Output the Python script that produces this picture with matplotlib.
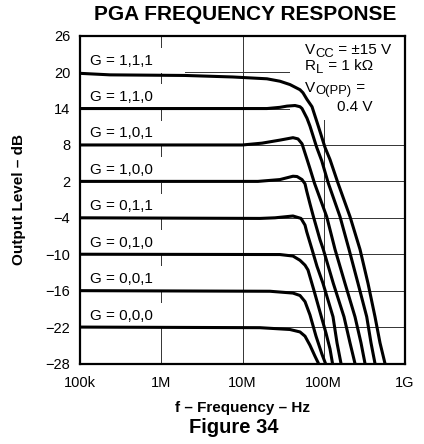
import matplotlib

matplotlib.use("Agg")
import matplotlib.pyplot as plt
from matplotlib.patches import Rectangle

plt.rcParams["font.family"] = ["Liberation Sans", "DejaVu Sans"]

# gain select codes and the nominal flat-band level of each
GAIN_CODES = ["1,1,1", "1,1,0", "1,0,1", "1,0,0", "0,1,1", "0,1,0", "0,0,1", "0,0,0"]
NOMINAL_DB = [20, 14, 8, 2, -4, -10, -16, -22]

# frequency in MHz, output level in dB
F_111 = [0.1, 0.234, 1.96, 7.6, 20.0, 28.9, 38.4, 51.0, 55.5, 62.2, 71.7, 85.7, 103.6,
         119.4, 149.8, 210.4, 279.4, 350.5, 427.4, 492.5, 567.4]
DB_111 = [19.8, 19.55, 19.45, 19.2, 18.9, 18.5, 17.95, 17.1, 16.6, 15.5, 14.3, 11.1, 7.6,
          5.6, 1.7, -3.8, -9.2, -14.8, -20.3, -24.6, -28.0]

F_110 = [0.1, 20.0, 28.9, 35.3, 44.3, 51.0, 54.0, 62.2, 67.7, 81.9, 94.4, 113.8, 158.5,
         204.6, 264.0, 337.9, 381.6, 427.4]
DB_110 = [14.0, 14.0, 14.2, 14.4, 14.5, 14.3, 14.0, 12.4, 11.1, 7.6, 5.4, 1.7, -3.8,
          -9.2, -14.8, -20.3, -24.6, -28.0]

F_101 = [0.1, 10.0, 17.4, 28.9, 41.8, 48.2, 54.0, 61.7, 67.7, 76.9, 108.7, 137.6, 182.6,
         242.4, 287.4, 322.0]
DB_101 = [8.0, 8.0, 8.3, 8.8, 9.2, 9.0, 8.2, 5.8, 4.1, 1.7, -3.8, -9.2, -14.8,
          -20.3, -24.6, -28.0]

F_100 = [0.1, 15.5, 28.9, 41.8, 46.9, 54.0, 58.8, 61.7, 67.7, 74.4, 89.9, 98.7, 131.1,
         177.5, 210.4, 242.4]
DB_100 = [2.0, 2.0, 2.3, 2.85, 2.8, 2.3, 1.6, 0.4, -1.7, -3.75, -7.6, -9.2, -14.8,
          -20.3, -24.6, -28.0]

F_011 = [0.1, 16.4, 25.1, 41.8, 52.5, 58.8, 61.7, 71.7, 82.6, 97.9, 130.0, 145.6, 163.1]
DB_011 = [-4.0, -4.1, -4.0, -3.7, -4.1, -5.2, -6.3, -9.2, -12.0, -14.8, -20.3, -24.6, -28.0]

F_010 = [0.1, 28.9, 41.8, 51.0, 58.8, 64.0, 75.9, 89.9, 106.6, 119.4, 128.2]
DB_010 = [-10.0, -10.05, -10.3, -11.0, -11.8, -12.6, -16.0, -19.5, -23.0, -25.6, -28.0]

F_001 = [0.1, 21.8, 41.8, 51.0, 58.8, 67.7, 80.3, 95.2, 105.1]
DB_001 = [-16.0, -16.1, -16.4, -16.8, -17.8, -20.0, -23.5, -26.5, -28.0]

F_000 = [0.1, 16.4, 38.4, 51.0, 58.8, 67.7, 78.0, 86.2]
DB_000 = [-22.0, -22.1, -22.4, -22.8, -23.5, -25.0, -26.8, -28.0]

CURVES = [(F_111, DB_111), (F_110, DB_110), (F_101, DB_101), (F_100, DB_100),
          (F_011, DB_011), (F_010, DB_010), (F_001, DB_001), (F_000, DB_000)]

Y_TICKS = [26, 20, 14, 8, 2, -4, -10, -16, -22, -28]
X_TICKS = [1e5, 1e6, 1e7, 1e8, 1e9]
X_TICK_LABELS = ["100k", "1M", "10M", "100M", "1G"]

# test conditions: (symbol, subscript, rest of line)
CONDITIONS = [("V", "CC", " = \u00b115 V"), ("R", "L", " = 1 k\u03a9"), ("V", "O(PP)", " =")]
CONDITION_Y = [23.0, 20.3, 16.8]


def label_with_subscript(ax, x, y, main, sub, rest, size=11):
    trans = ax.get_yaxis_transform()
    t1 = ax.text(x, y, main, transform=trans, fontsize=size, ha="left",
                 va="baseline", zorder=4)
    t2 = ax.annotate(sub, xy=(1, 0), xycoords=t1, xytext=(0.3, -2.0),
                     textcoords="offset points", fontsize=size * 0.85,
                     ha="left", va="bottom", zorder=4)
    ax.annotate(rest, xy=(1, 0), xycoords=(t2, t1), xytext=(0, 0),
                textcoords="offset points", fontsize=size, ha="left",
                va="bottom", zorder=4)


W, H = 424, 444
fig = plt.figure(figsize=(W / 100, H / 100), dpi=100)
ax = fig.add_axes([80 / W, 1 - 363.5 / H, 325 / W, 327.8 / H])

ax.set_xscale("log")
ax.set_xlim(1e5, 1e9)
ax.set_ylim(-28, 26)
ax.set_xticks(X_TICKS)
ax.set_xticklabels(X_TICK_LABELS)
ax.set_xticks([], minor=True)
ax.set_yticks(Y_TICKS)
ax.set_yticklabels([str(v).replace("-", "\u2212") for v in Y_TICKS])
ax.tick_params(length=0, labelsize=10.5)
ax.tick_params(axis="y", pad=7)
ax.tick_params(axis="x", pad=9)
ax.grid(True, color="0.2", lw=0.7)
ax.set_axisbelow(True)
for sp in ax.spines.values():
    sp.set_linewidth(1.6)

trans = ax.get_yaxis_transform()
for code, level in zip(GAIN_CODES, NOMINAL_DB):
    ax.add_patch(Rectangle((0, level - 0.2), 0.323, 4.2, transform=trans,
                           facecolor="white", edgecolor="none", zorder=1))
    ax.text(0.031, level + 1.9, f"G = {code}", transform=trans, fontsize=11,
            ha="left", va="center", zorder=4)

# blank area behind the test conditions
ax.add_patch(Rectangle((0.646, 12.1), 0.354, 13.9, transform=trans,
                       facecolor="white", edgecolor="none", zorder=1))

for freqs, levels in CURVES:
    ax.plot([f * 1e6 for f in freqs], levels, color="black", lw=2.2,
            solid_joinstyle="round", solid_capstyle="butt", zorder=3)

for (main, sub, rest), y in zip(CONDITIONS, CONDITION_Y):
    label_with_subscript(ax, 0.692, y, main, sub, rest)
ax.text(0.791, 14.3, "0.4 V", transform=trans, fontsize=11,
        ha="left", va="center", zorder=4)

fig.text(245 / W, 1 - 15 / H, "PGA FREQUENCY RESPONSE", fontsize=15,
         fontweight="bold", ha="center", va="center")
fig.text(242 / W, 1 - 408 / H, "f \u2013 Frequency \u2013 Hz", fontsize=11,
         fontweight="bold", ha="center", va="center")
fig.text(19 / W, 1 - 199.5 / H, "Output Level \u2013 dB", fontsize=11,
         fontweight="bold", ha="center", va="center", rotation=90)
fig.text(234 / W, 1 - 427 / H, "Figure 34", fontsize=14.5,
         fontweight="bold", ha="center", va="center")

fig.savefig("out.png", dpi=100)
